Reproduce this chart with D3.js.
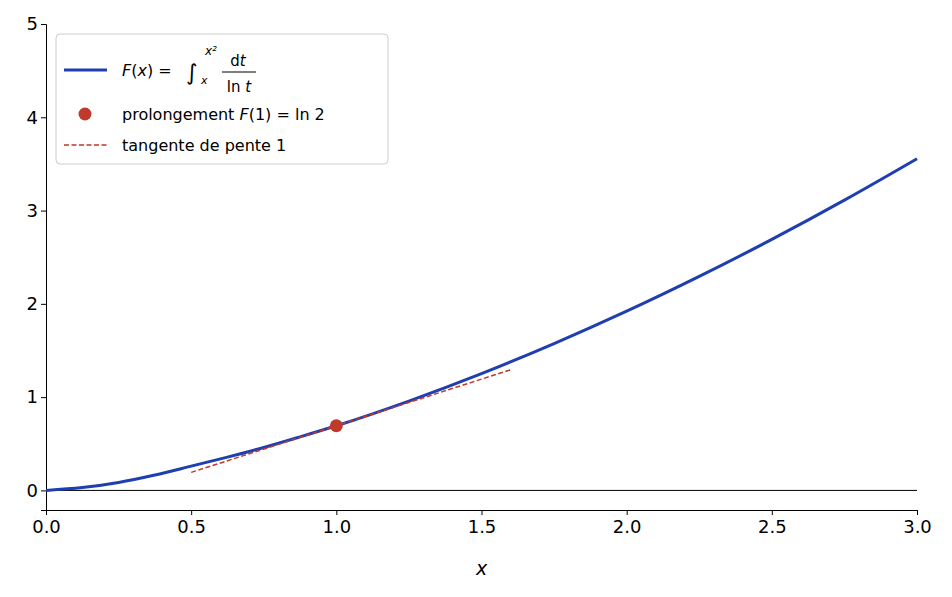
<!DOCTYPE html>
<html><head><meta charset="UTF-8">
<script src="https://cdn.jsdelivr.net/npm/d3@7"></script>
<style>body{margin:0;background:#fff;font-family:"DejaVu Sans",sans-serif;}</style>
</head><body>
<script>
var xs = [0, 0.125, 0.25, 0.375, 0.5, 0.625, 0.75, 0.875, 1, 1.25, 1.5, 1.75, 2, 2.25, 2.5, 2.75, 3];
var fs = [0, 0.03, 0.085, 0.165, 0.26, 0.357, 0.46, 0.574, 0.693, 0.958, 1.252, 1.574, 1.921, 2.294, 2.691, 3.112, 3.556];
var tanX = [0.5, 1.6];
var tanY = [0.193, 1.293];
var xTicks = [0, 0.5, 1, 1.5, 2, 2.5, 3];
var yTicks = [0, 1, 2, 3, 4, 5];

var W = 952, H = 597, blue = "#1f3fb0", red = "#c0392b";
var svg = d3.select("body").append("svg").attr("width", W).attr("height", H);
var x = d3.scaleLinear().domain([0, 3]).range([46, 917]);
var y = d3.scaleLinear().domain([-0.21, 5]).range([510, 24]);

svg.append("g").attr("transform", "translate(0,510)")
  .call(d3.axisBottom(x).tickValues(xTicks).tickFormat(d3.format(".1f")).tickSizeOuter(0).tickSize(5))
  .call(g => g.selectAll("text").style("font-size", "18px").style("font-family", "DejaVu Sans").attr("dy", "0.85em"));
svg.append("g").attr("transform", "translate(46,0)")
  .call(d3.axisLeft(y).tickValues(yTicks).tickFormat(d3.format("d")).tickSizeOuter(0).tickSize(5))
  .call(g => g.selectAll("text").style("font-size", "18px").style("font-family", "DejaVu Sans"));
svg.selectAll(".domain").attr("stroke", "#000");

svg.append("line").attr("x1", x(0)).attr("x2", x(3)).attr("y1", y(0)).attr("y2", y(0))
  .attr("stroke", "#000").attr("stroke-width", 1);

var pts = xs.map((v, i) => [v, fs[i]]);
svg.append("path").datum(pts).attr("fill", "none").attr("stroke", blue).attr("stroke-width", 3)
  .attr("d", d3.line().x(d => x(d[0])).y(d => y(d[1])).curve(d3.curveMonotoneX));
svg.append("path").datum(tanX.map((v, i) => [v, tanY[i]])).attr("fill", "none").attr("stroke", red)
  .attr("stroke-width", 1.5).attr("stroke-dasharray", "5,2.5")
  .attr("d", d3.line().x(d => x(d[0])).y(d => y(d[1])));
svg.append("circle").attr("cx", x(1)).attr("cy", y(fs[8])).attr("r", 6.5).attr("fill", red);

svg.append("text").attr("x", x(1.5)).attr("y", 575).attr("text-anchor", "middle")
  .attr("font-size", 19).attr("font-style", "italic").text("x");

// legend
var lg = svg.append("g");
lg.append("rect").attr("x", 56).attr("y", 34).attr("width", 332).attr("height", 130).attr("rx", 4)
  .attr("fill", "#fff").attr("stroke", "#ccc");
lg.append("line").attr("x1", 64).attr("x2", 107).attr("y1", 70).attr("y2", 70).attr("stroke", blue).attr("stroke-width", 3);
var t1 = lg.append("text").attr("x", 122).attr("y", 76).attr("font-size", 16);
t1.append("tspan").attr("font-style", "italic").text("F");
t1.append("tspan").text("(");
t1.append("tspan").attr("font-style", "italic").text("x");
t1.append("tspan").text(") =");
lg.append("text").attr("x", 186).attr("y", 80).attr("font-size", 22).text("∫");
lg.append("text").attr("x", 201).attr("y", 84).attr("font-size", 11).attr("font-style", "italic").text("x");
lg.append("text").attr("x", 205).attr("y", 55).attr("font-size", 12).attr("font-style", "italic").text("x²");
var num = lg.append("text").attr("x", 238).attr("y", 66).attr("font-size", 15).attr("text-anchor", "middle");
num.append("tspan").text("d");
num.append("tspan").attr("font-style", "italic").text("t");
lg.append("line").attr("x1", 222).attr("x2", 256).attr("y1", 72).attr("y2", 72).attr("stroke", "#000");
var den = lg.append("text").attr("x", 239).attr("y", 92).attr("font-size", 15).attr("text-anchor", "middle");
den.append("tspan").text("ln ");
den.append("tspan").attr("font-style", "italic").text("t");

lg.append("circle").attr("cx", 85).attr("cy", 114).attr("r", 6.5).attr("fill", red);
var t2 = lg.append("text").attr("x", 122).attr("y", 120).attr("font-size", 16);
t2.append("tspan").text("prolongement ");
t2.append("tspan").attr("font-style", "italic").text("F");
t2.append("tspan").text("(1) = ln 2");

lg.append("line").attr("x1", 64).attr("x2", 107).attr("y1", 145).attr("y2", 145).attr("stroke", red)
  .attr("stroke-width", 1.5).attr("stroke-dasharray", "5,2.5");
lg.append("text").attr("x", 122).attr("y", 151).attr("font-size", 16).text("tangente de pente 1");
</script>
</body></html>
